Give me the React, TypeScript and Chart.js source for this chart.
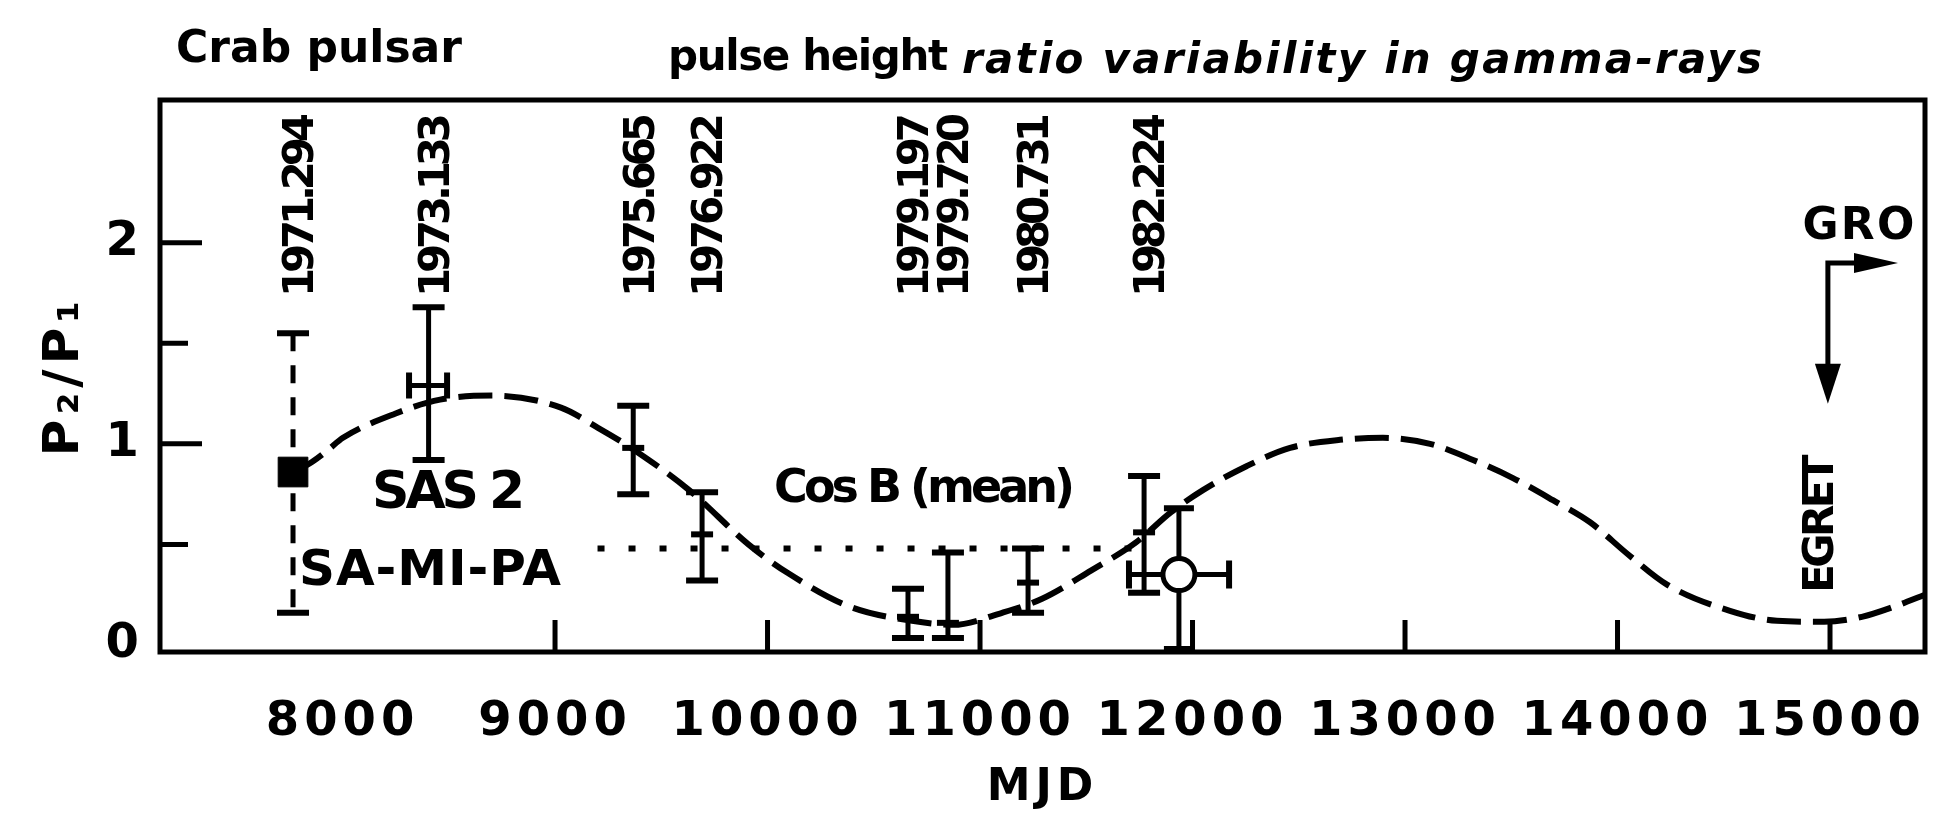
import React, { useEffect, useRef } from 'react';
import { Chart, registerables } from 'chart.js';

Chart.register(...registerables);
Chart.defaults.font.family = 'DejaVu Sans';
Chart.defaults.color = '#000';

// ---------------- data ----------------
const xTickValues = [8000, 9000, 10000, 11000, 12000, 13000, 14000, 15000];
const xTickMarkValues = [9000, 10000, 11000, 12000, 13000, 14000, 15000];
const yTickValues = [0, 0.5, 1, 1.5, 2];
const yLabelledValues = [0, 1, 2];

const epochLabels = ['1971.294', '1973.133', '1975.665', '1976.922', '1979.197', '1979.720', '1980.731', '1982.224'];
const epochMJD = [7767, 8405, 9368, 9692, 10661, 10849, 11226, 11772];
const epochRatio = [0.86, 1.29, 0.98, 0.55, 0.14, 0.11, 0.31, 0.56];
const epochRatioLow = [0.16, 0.92, 0.75, 0.32, 0.035, 0.035, 0.16, 0.26];
const epochRatioHigh = [1.55, 1.68, 1.19, 0.76, 0.28, 0.46, 0.48, 0.84];

const sas2MJDRange = [8313, 8492];

const openMJD = [11936];
const openRatio = [0.35];
const openRatioLow = [-0.02];
const openRatioHigh = [0.68];
const openMJDLow = [11701];
const openMJDHigh = [12172];

const cosBMeanMJD = [9200, 11780];
const cosBMeanRatio = [0.48, 0.48];

const curveMJD = [7767, 7856, 7932, 8002, 8247, 8459, 8713, 9028, 9202, 9358, 9631, 9910, 10092, 10388, 10680, 10873, 11104, 11292, 11522, 11734, 11899, 12049, 12256, 12459, 12694, 12896, 13118, 13320, 13508, 13696, 13871, 14050, 14233, 14529, 14750, 14972, 15150, 15300, 15447];
const curveRatio = [0.86, 0.91, 0.97, 1.03, 1.15, 1.22, 1.24, 1.18, 1.08, 0.98, 0.77, 0.50, 0.36, 0.19, 0.12, 0.10, 0.16, 0.23, 0.37, 0.51, 0.66, 0.77, 0.89, 0.98, 1.02, 1.03, 1.00, 0.92, 0.83, 0.72, 0.61, 0.45, 0.30, 0.17, 0.12, 0.115, 0.14, 0.19, 0.25];

const groCornerMJD = 14990;
const groRightTipMJD = 15320;
const groLevelRatio = 1.9;
const egretTipRatio = 1.2;

// ---------------- annotation layout ----------------
const FONT = '"DejaVu Sans"';
const textNotes = [
  { text: 'SAS 2', mjd: 8139, ratio: 0.68, width: 153, size: 52 },
  { text: 'SA-MI-PA', mjd: 7795, ratio: 0.30, width: 262, size: 50 },
  { text: 'Cos B (mean)', mjd: 10031, ratio: 0.71, width: 301, size: 46 },
  { text: 'GRO', mjd: 14870, ratio: 2.02, width: 112, size: 44 },
];

function fillFit(ctx: CanvasRenderingContext2D, text: string, x: number, y: number, width: number, font: string) {
  ctx.save();
  ctx.font = font;
  (ctx as any).letterSpacing = '0px';
  const w = ctx.measureText(text).width;
  const n = text.length;
  const ls = n > 1 ? (width - w) / (n - 1) : 0;
  (ctx as any).letterSpacing = ls + 'px';
  ctx.textAlign = 'left';
  ctx.textBaseline = 'alphabetic';
  ctx.fillStyle = '#000';
  ctx.fillText(text, x, y);
  ctx.restore();
}

function vBar(ctx: CanvasRenderingContext2D, x: number, yTop: number, yBot: number, cap: number, dash: number[]) {
  ctx.save();
  ctx.lineWidth = 5;
  ctx.setLineDash(dash);
  ctx.beginPath();
  ctx.moveTo(x, yTop);
  ctx.lineTo(x, yBot);
  ctx.stroke();
  ctx.setLineDash([]);
  ctx.lineWidth = 6;
  ctx.beginPath();
  ctx.moveTo(x - cap / 2, yTop);
  ctx.lineTo(x + cap / 2, yTop);
  ctx.moveTo(x - cap / 2, yBot);
  ctx.lineTo(x + cap / 2, yBot);
  ctx.stroke();
  ctx.restore();
}

function hBar(ctx: CanvasRenderingContext2D, xL: number, xR: number, y: number, cap: number) {
  ctx.save();
  ctx.lineWidth = 5;
  ctx.beginPath();
  ctx.moveTo(xL, y);
  ctx.lineTo(xR, y);
  ctx.stroke();
  ctx.lineWidth = 6;
  ctx.beginPath();
  ctx.moveTo(xL, y - cap / 2);
  ctx.lineTo(xL, y + cap / 2);
  ctx.moveTo(xR, y - cap / 2);
  ctx.lineTo(xR, y + cap / 2);
  ctx.stroke();
  ctx.restore();
}

function arrowHead(ctx: CanvasRenderingContext2D, tx: number, ty: number, dx: number, dy: number, len: number, half: number) {
  const bx = tx - dx * len;
  const by = ty - dy * len;
  const px = -dy;
  const py = dx;
  ctx.beginPath();
  ctx.moveTo(tx, ty);
  ctx.lineTo(bx + px * half, by + py * half);
  ctx.lineTo(bx - px * half, by - py * half);
  ctx.closePath();
  ctx.fill();
}

const overlayPlugin = {
  id: 'overlay',
  beforeDraw(chart: any) {
    (chart.ctx as any).letterSpacing = '5px';
  },
  beforeDatasetsDraw(chart: any) {
    const ctx: CanvasRenderingContext2D = chart.ctx;
    (ctx as any).letterSpacing = '0px';
    const xs = chart.scales.x;
    const ys = chart.scales.y;
    const X = (v: number) => xs.getPixelForValue(v);
    const Y = (v: number) => ys.getPixelForValue(v);
    ctx.save();
    ctx.strokeStyle = '#000';
    ctx.fillStyle = '#000';
    epochMJD.forEach((m, i) => {
      vBar(ctx, X(m), Y(epochRatioHigh[i]), Y(epochRatioLow[i]), 32, i === 0 ? [18, 14] : []);
    });
    hBar(ctx, X(sas2MJDRange[0]), X(sas2MJDRange[1]), Y(epochRatio[1]), 26);
    openMJD.forEach((m, i) => {
      vBar(ctx, X(m), Y(openRatioHigh[i]), Y(openRatioLow[i]), 30, []);
      hBar(ctx, X(openMJDLow[i]), X(openMJDHigh[i]), Y(openRatio[i]), 28);
    });
    ctx.restore();
  },
  afterDraw(chart: any) {
    const ctx: CanvasRenderingContext2D = chart.ctx;
    const xs = chart.scales.x;
    const ys = chart.scales.y;
    const X = (v: number) => xs.getPixelForValue(v);
    const Y = (v: number) => ys.getPixelForValue(v);
    const a = chart.chartArea;
    ctx.save();
    ctx.strokeStyle = '#000';
    ctx.fillStyle = '#000';
    // frame
    ctx.lineWidth = 5;
    ctx.strokeRect(a.left, a.top, a.right - a.left, a.bottom - a.top);
    // inward ticks
    ctx.lineWidth = 5;
    ctx.beginPath();
    xTickMarkValues.forEach((v) => {
      const px = X(v);
      ctx.moveTo(px, a.bottom);
      ctx.lineTo(px, a.bottom - 32);
    });
    yTickValues.forEach((v) => {
      if (v === 0) return;
      const py = Y(v);
      const len = Number.isInteger(v) ? 42 : 28;
      ctx.moveTo(a.left, py);
      ctx.lineTo(a.left + len, py);
    });
    ctx.stroke();

    // titles
    fillFit(ctx, 'Crab pulsar', 176, 62, 286, 'bold 44px ' + FONT);
    fillFit(ctx, 'pulse height', 668, 70, 280, 'bold 42px ' + FONT);
    fillFit(ctx, 'ratio variability in gamma-rays', 962, 73, 800, 'italic bold 42px ' + FONT);

    // epoch labels (rotated)
    epochLabels.forEach((lab, i) => {
      const size = 42;
      ctx.save();
      ctx.translate(X(epochMJD[i]) + 5, Y(1.73));
      ctx.rotate(-Math.PI / 2);
      fillFit(ctx, lab, 0, (size * 0.729) / 2, 184, 'bold ' + size + 'px ' + FONT);
      ctx.restore();
    });

    // text notes
    textNotes.forEach((n) => {
      fillFit(ctx, n.text, X(n.mjd), Y(n.ratio), n.width, 'bold ' + n.size + 'px ' + FONT);
    });

    // EGRET rotated
    ctx.save();
    ctx.translate(X(14944), Y(0.26));
    ctx.rotate(-Math.PI / 2);
    fillFit(ctx, 'EGRET', 0, (42 * 0.729) / 2, 138, 'bold 42px ' + FONT);
    ctx.restore();

    // GRO arrows
    const cx = X(groCornerMJD);
    const cy = Y(groLevelRatio);
    const tipY = Y(egretTipRatio);
    const tipX = X(groRightTipMJD);
    ctx.lineWidth = 5;
    ctx.beginPath();
    ctx.moveTo(cx, tipY - 38);
    ctx.lineTo(cx, cy);
    ctx.lineTo(tipX - 40, cy);
    ctx.stroke();
    arrowHead(ctx, cx, tipY, 0, 1, 40, 13);
    arrowHead(ctx, tipX, cy, 1, 0, 44, 10);
    ctx.restore();
  },
};

export default function App() {
  const ref = useRef<HTMLCanvasElement>(null);
  useEffect(() => {
    const canvas = ref.current;
    if (!canvas) return;
    const chart = new Chart(canvas, {
      type: 'scatter',
      data: {
        datasets: [
          {
            label: 'open',
            data: openMJD.map((x, i) => ({ x, y: openRatio[i] })),
            pointStyle: 'circle',
            pointRadius: 16,
            borderWidth: 5,
            borderColor: '#000',
            backgroundColor: '#fff',
          },
          {
            label: 'SA-MI-PA',
            data: [{ x: epochMJD[0], y: epochRatio[0] }],
            pointStyle: 'rect',
            pointRadius: 21,
            borderWidth: 1,
            borderColor: '#000',
            backgroundColor: '#000',
          },
          {
            label: 'Cos B',
            data: epochMJD.slice(2).map((x, i) => ({ x, y: epochRatio[i + 2] })),
            pointStyle: 'line',
            pointRadius: 11,
            borderWidth: 6,
            borderColor: '#000',
            backgroundColor: '#000',
          },
          {
            label: 'Cos B mean',
            data: cosBMeanMJD.map((x, i) => ({ x, y: cosBMeanRatio[i] })),
            showLine: true,
            borderDash: [7, 24],
            borderWidth: 6,
            pointRadius: 0,
            borderColor: '#000',
          },
          {
            label: 'curve',
            data: curveMJD.map((x, i) => ({ x, y: curveRatio[i] })),
            showLine: true,
            borderDash: [34, 12],
            borderWidth: 6,
            pointRadius: 0,
            borderColor: '#000',
            cubicInterpolationMode: 'monotone',
          },
        ],
      },
      options: {
        responsive: false,
        animation: false,
        events: [],
        layout: { padding: { left: 0, top: 100, right: 35, bottom: 0 } },
        plugins: { legend: { display: false }, tooltip: { enabled: false } },
        scales: {
          x: {
            type: 'linear',
            min: 7141,
            max: 15447,
            afterBuildTicks: (s: any) => {
              s.ticks = xTickValues.map((v) => ({ value: v }));
            },
            afterFit: (s: any) => {
              s.height = 163;
            },
            grid: { display: false },
            border: { display: false },
            ticks: {
              color: '#000',
              font: { family: 'DejaVu Sans', size: 48, weight: 'bold' },
              padding: 34,
              maxRotation: 0,
              autoSkip: false,
              callback: (v: any) => String(v),
            },
            title: {
              display: true,
              text: 'MJD',
              color: '#000',
              font: { family: 'DejaVu Sans', size: 44, weight: 'bold' },
              padding: { top: 0, bottom: 0 },
            },
          },
          y: {
            type: 'linear',
            min: -0.035,
            max: 2.71,
            afterBuildTicks: (s: any) => {
              s.ticks = yTickValues.map((v) => ({ value: v }));
            },
            afterFit: (s: any) => {
              s.width = 160;
            },
            grid: { display: false },
            border: { display: false },
            ticks: {
              color: '#000',
              font: { family: 'DejaVu Sans', size: 48, weight: 'bold' },
              padding: 8,
              autoSkip: false,
              callback: (v: any) => (yLabelledValues.includes(v) ? String(v) : ''),
            },
            title: {
              display: true,
              text: 'P₂/P₁',
              color: '#000',
              font: { family: 'DejaVu Sans', size: 50, weight: 'bold' },
              padding: { top: 35, bottom: 0 },
            },
          },
        },
      } as any,
      plugins: [overlayPlugin],
    });
    return () => chart.destroy();
  }, []);
  return (
    <div style={{ position: 'absolute', left: 0, top: 0, width: 1960, height: 815, background: '#fff' }}>
      <canvas ref={ref} width={1960} height={815} style={{ display: 'block', width: 1960, height: 815 }} />
    </div>
  );
}
